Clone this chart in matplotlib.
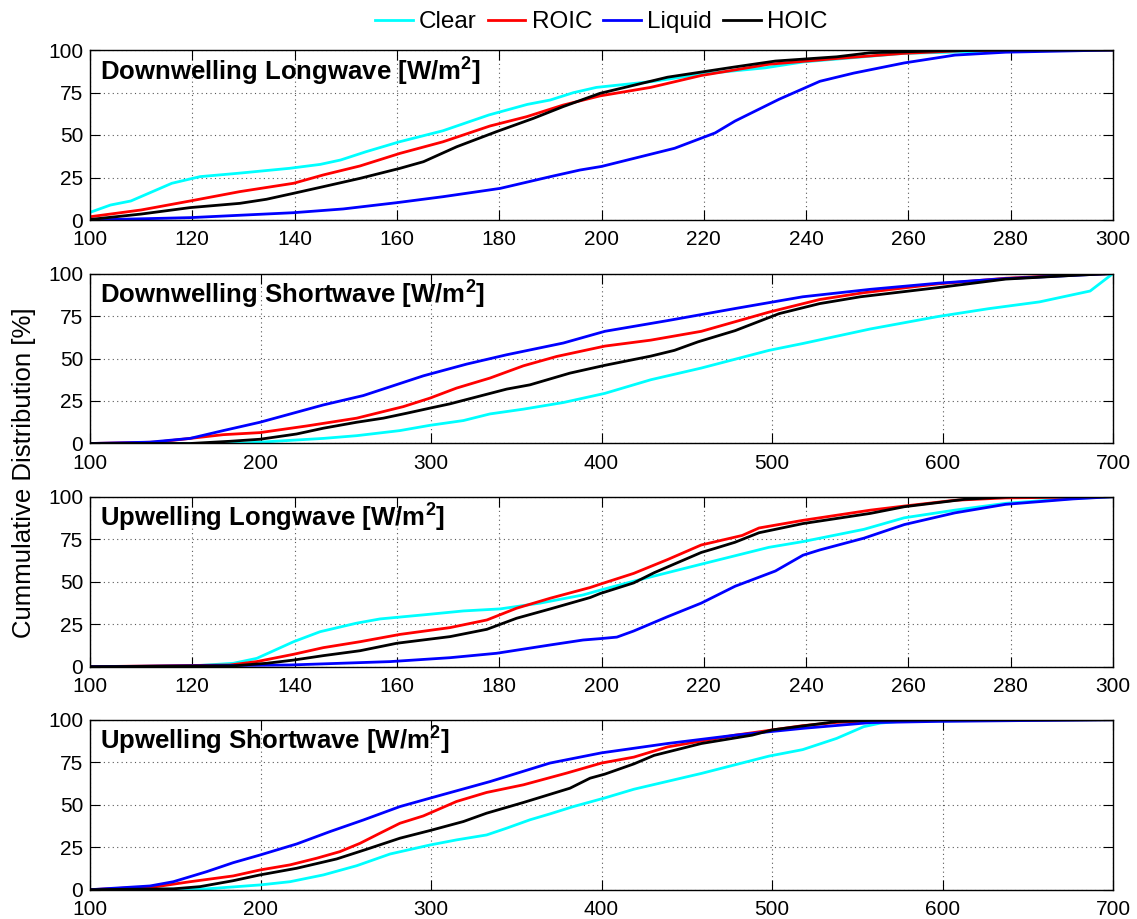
import matplotlib
matplotlib.use("Agg")
import matplotlib.pyplot as plt

plt.rcParams['font.family'] = ['Liberation Sans', 'DejaVu Sans']
plt.rcParams['mathtext.fontset'] = 'custom'
plt.rcParams['mathtext.rm'] = 'Liberation Sans'
plt.rcParams['mathtext.bf'] = 'Liberation Sans:bold'

series_names = ["Clear", "ROIC", "Liquid", "HOIC"]
panel_titles = [r"Downwelling Longwave [W/m$^{\mathbf{2}}$]",
                r"Downwelling Shortwave [W/m$^{\mathbf{2}}$]",
                r"Upwelling Longwave [W/m$^{\mathbf{2}}$]",
                r"Upwelling Shortwave [W/m$^{\mathbf{2}}$]"]
x_limits = [(100, 300), (100, 700), (100, 300), (100, 700)]
x_ticks_lw = [100, 120, 140, 160, 180, 200, 220, 240, 260, 280, 300]
x_ticks_sw = [100, 200, 300, 400, 500, 600, 700]
y_ticks = [0, 25, 50, 75, 100]
ylabel = "Cummulative Distribution [%]"

# ---- Downwelling Longwave ----
dlw_clear_x = [100, 104, 108, 116, 121.5, 129, 139, 145, 149, 154, 160.5, 169, 178, 185.5, 190, 194.5, 199, 210, 220, 232, 239.5, 259, 280, 300]
dlw_clear_y = [4.5, 8.8, 11.2, 21.6, 25.5, 27.5, 30.4, 32.7, 35.3, 40.2, 46, 52.5, 61.8, 68, 70.6, 74.9, 78, 81.5, 86, 89.5, 93, 98, 99.6, 100]
dlw_roic_x = [100, 110, 119.6, 129.3, 139.8, 145.6, 152.8, 160.6, 169, 178.2, 185.4, 192.5, 199.7, 209.6, 219.5, 232.7, 246, 259, 272, 300]
dlw_roic_y = [1.9, 5.9, 11.2, 16.7, 21.6, 26.5, 31.8, 39.2, 46, 55.3, 60.8, 67.6, 73, 78, 85, 91.6, 95, 98, 99.8, 100]
dlw_liquid_x = [100, 119.6, 139.8, 149.5, 160, 169, 180.2, 190, 195.8, 200, 214.3, 222.2, 226.1, 234.7, 242.7, 249.3, 259.2, 269.1, 279, 292, 300]
dlw_liquid_y = [0, 1.4, 4.3, 6.5, 10.2, 13.7, 18.6, 25.5, 29.4, 31.5, 42.2, 51.2, 58.2, 71, 81.6, 86.4, 92.4, 97, 98.7, 99.5, 100]
dlw_hoic_x = [100, 110, 119.6, 129.3, 134.5, 139.8, 145.6, 152.8, 160.6, 165.2, 171.7, 179.5, 186.7, 192.5, 199.7, 212.9, 226, 234, 246, 252.6, 266, 280, 300]
dlw_hoic_y = [0.3, 3.5, 7.3, 9.8, 12.2, 15.7, 19.6, 24.5, 30.4, 34.3, 43.1, 52, 59.8, 66.7, 74.5, 84, 90, 93.5, 96, 98.4, 99.5, 100, 100]

# ---- Downwelling Shortwave ----
dsw_clear_x = [100, 184, 199.7, 236.9, 256.4, 281.8, 299.4, 319, 334.6, 354.2, 377.6, 402, 428.9, 458.6, 498.3, 518, 557.8, 597.4, 627, 656.9, 686.6, 700]
dsw_clear_y = [0, 0, 0.8, 3, 4.6, 7.6, 10.7, 13.5, 17.4, 20.2, 24.1, 29.5, 37.5, 44.4, 54.8, 58.8, 67.4, 74.7, 79.3, 83.3, 89.7, 100]
dsw_roic_x = [100, 139, 158.7, 178.2, 199.7, 227, 256.4, 283.8, 299.4, 315, 334.6, 354.2, 373.7, 402, 428.9, 458.6, 498.3, 528, 553.8, 597.4, 637, 676.7, 700]
dsw_roic_y = [0, 0.8, 3, 5.2, 6.4, 10.3, 14.9, 21.7, 26.7, 32.6, 38.5, 45.7, 51.2, 57.3, 60.8, 66, 77.3, 84.7, 88.7, 93.9, 97.2, 99.2, 100]
dsw_liquid_x = [100, 135, 158.7, 178.2, 199.7, 236.9, 260.3, 295.5, 320.9, 344.4, 377.6, 402, 438.8, 478.4, 518, 557.8, 597.4, 637, 676.7, 700]
dsw_liquid_y = [0, 0.8, 3, 7.6, 12.5, 22.7, 28.2, 39.8, 46.7, 52.2, 59.1, 66, 72.3, 79.4, 86.3, 90.7, 94.3, 97, 98.9, 100]
dsw_hoic_x = [100, 158.7, 182, 199.7, 221.2, 236.9, 256.4, 272, 285.7, 299.4, 311, 344.4, 358, 381.5, 402, 428.9, 442.8, 456.6, 478.4, 504.2, 528, 551.8, 597.4, 637, 676.7, 700]
dsw_hoic_y = [0, 0, 1.3, 2.5, 5.6, 9, 12.5, 14.9, 17.8, 20.8, 23.3, 32, 34.5, 41.4, 46, 51.4, 54.8, 59.8, 66.4, 76.4, 82.3, 86.3, 91.7, 96.7, 98.9, 100]

# ---- Upwelling Longwave ----
ulw_clear_x = [100, 119.6, 128, 132.6, 139.8, 145, 152.1, 156.7, 165.2, 173, 180.2, 188, 196.4, 199.7, 206.3, 219.5, 232.7, 239.4, 251.3, 259.2, 269.1, 279, 292.2, 300]
ulw_clear_y = [0, 0.4, 2, 4.9, 14.7, 20.6, 25.6, 28.1, 30.5, 32.8, 34, 37.4, 42.2, 45, 50.3, 60.3, 70.2, 73.6, 80.8, 87.6, 92.1, 96.1, 99, 100]
ulw_roic_x = [100, 127.4, 132.6, 139.8, 145.6, 152.8, 160.6, 170.4, 177.6, 183.4, 190, 197.8, 199.7, 206.3, 212.9, 219.5, 227.5, 230.8, 239.4, 252.6, 259.2, 269.1, 279, 300]
ulw_roic_y = [0, 1, 3, 7.3, 11.2, 14.7, 19, 23, 27.5, 34.4, 40.3, 46.6, 48.5, 54.9, 63, 71.6, 77.2, 81.6, 86.1, 92.1, 94.5, 97.9, 99.3, 100]
ulw_liquid_x = [100, 139, 158.7, 170.4, 179.5, 190, 196.4, 199.7, 203, 206.3, 212.9, 219.5, 226.1, 234, 239.4, 242.7, 251.3, 259.2, 269.1, 279, 292.2, 300]
ulw_liquid_y = [0, 1, 3, 5.3, 7.9, 12.8, 15.7, 16.5, 17.4, 21, 29.4, 37.4, 47.3, 56.3, 65.6, 68.7, 75.6, 83.6, 90.5, 95.5, 98.7, 100]
ulw_hoic_x = [100, 128, 134.5, 139.8, 145.6, 152.8, 160, 170.4, 177.6, 183.4, 190, 197.8, 199.7, 206.3, 210.3, 219.5, 222.2, 226.1, 230.8, 239.4, 252.6, 259.2, 271.1, 280, 300]
ulw_hoic_y = [0, 0.5, 2, 3.9, 6.5, 9.4, 13.8, 17.7, 22, 28.5, 34, 40.7, 43, 49.3, 55.3, 67.2, 69.6, 73.2, 78.8, 84.2, 90.2, 94.1, 98.5, 100, 100]

# ---- Upwelling Shortwave ----
usw_clear_x = [100, 168.4, 199.7, 217.3, 236.9, 256.4, 276, 299.4, 315, 332.6, 344.4, 358, 369.8, 383.5, 402, 419, 458.6, 498.3, 518, 537.9, 553.8, 563.6, 577, 700]
usw_clear_y = [0, 0.5, 2.8, 4.7, 8.7, 14.1, 21, 26.3, 29.3, 32.2, 36.2, 41.1, 44.6, 48.9, 54, 59.1, 68.4, 78.6, 82.4, 89, 95.9, 98, 99.2, 100]
usw_roic_x = [100, 139, 158.7, 184, 199.7, 217.3, 232.9, 246.6, 258.4, 270, 281.8, 295.5, 315, 332.6, 354.2, 379.6, 400, 419, 438.8, 478.4, 518, 537.9, 560, 700]
usw_roic_y = [0, 1.8, 4.7, 8.1, 11.6, 14.6, 18.5, 22.4, 27.3, 33.2, 39.1, 43.4, 51.9, 57.2, 61.7, 68.6, 74.5, 78, 84, 90.9, 96.5, 98.4, 99.4, 100]
usw_liquid_x = [100, 135.2, 148.9, 168.4, 184, 199.7, 221.2, 240.8, 260.3, 281.8, 301.4, 334.6, 369.8, 400, 438.8, 478.4, 518, 557.8, 597.4, 700]
usw_liquid_y = [0, 2.2, 4.7, 10.6, 15.9, 20.4, 26.9, 34.2, 41, 48.9, 54.4, 63.6, 74.5, 80.5, 86, 90.9, 94.9, 98.3, 99, 100]
usw_hoic_x = [100, 148.9, 164.5, 184, 199.7, 221.2, 244.7, 262.3, 281.8, 299.4, 319, 332.6, 354.2, 381.5, 393.3, 402, 419, 430.8, 458.6, 488.3, 500.2, 518, 537.9, 557.8, 600, 700]
usw_hoic_y = [0, 0.5, 1.8, 5.3, 8.7, 12.6, 18.1, 23.8, 30.3, 34.8, 40.1, 45, 51.3, 59.7, 65.6, 68, 74, 79, 86, 90.9, 94, 96.3, 98.9, 99.6, 100, 100]

panels = [
    [(dlw_clear_x, dlw_clear_y), (dlw_roic_x, dlw_roic_y), (dlw_liquid_x, dlw_liquid_y), (dlw_hoic_x, dlw_hoic_y)],
    [(dsw_clear_x, dsw_clear_y), (dsw_roic_x, dsw_roic_y), (dsw_liquid_x, dsw_liquid_y), (dsw_hoic_x, dsw_hoic_y)],
    [(ulw_clear_x, ulw_clear_y), (ulw_roic_x, ulw_roic_y), (ulw_liquid_x, ulw_liquid_y), (ulw_hoic_x, ulw_hoic_y)],
    [(usw_clear_x, usw_clear_y), (usw_roic_x, usw_roic_y), (usw_liquid_x, usw_liquid_y), (usw_hoic_x, usw_hoic_y)],
]
colors = ["#00FFFF", "#FF0000", "#0000FF", "#000000"]
x_tick_sets = [x_ticks_lw, x_ticks_sw, x_ticks_lw, x_ticks_sw]

W, H = 1137, 919
fig = plt.figure(figsize=(W / 100, H / 100), dpi=100)

ax_left = 90 / W
ax_width = 1023 / W
ax_height = 170 / H
bottoms_px = [220, 443.5, 666.7, 889.7]

handles = []
for i, series in enumerate(panels):
    ax = fig.add_axes([ax_left, 1 - bottoms_px[i] / H, ax_width, ax_height])
    for (xs, ys), c, name in zip(series, colors, series_names):
        ln, = ax.plot(xs, ys, color=c, lw=2.0, label=name)
        if i == 0:
            handles.append(ln)
    ax.set_xlim(*x_limits[i])
    ax.set_ylim(0, 100)
    ax.set_xticks(x_tick_sets[i])
    ax.set_yticks(y_ticks)
    ax.grid(True, linestyle=(0, (1, 3)), color='0.35', lw=0.8)
    ax.tick_params(direction='in', top=True, right=True, length=7, width=0.8,
                   labelsize=15)
    ax.tick_params(axis='x', pad=7.5)
    ax.tick_params(axis='y', pad=5)
    for sp in ax.spines.values():
        sp.set_linewidth(1.0)
    ax.text(10 / 1023, 0.828, panel_titles[i], transform=ax.transAxes,
            fontsize=18.5, fontweight='bold', ha='left', va='baseline')

fig.text(24 / W, 1 - 473 / H, ylabel, rotation=90, ha='center', va='center', fontsize=18.5)

fig.legend(handles=handles, labels=series_names, loc='center',
           bbox_to_anchor=(601 / W, 1 - 22 / H), ncol=4, frameon=False,
           fontsize=17.5, handlelength=1.56, handletextpad=0.25, columnspacing=0.45,
           borderaxespad=0)

fig.savefig("out.png", dpi=100)
